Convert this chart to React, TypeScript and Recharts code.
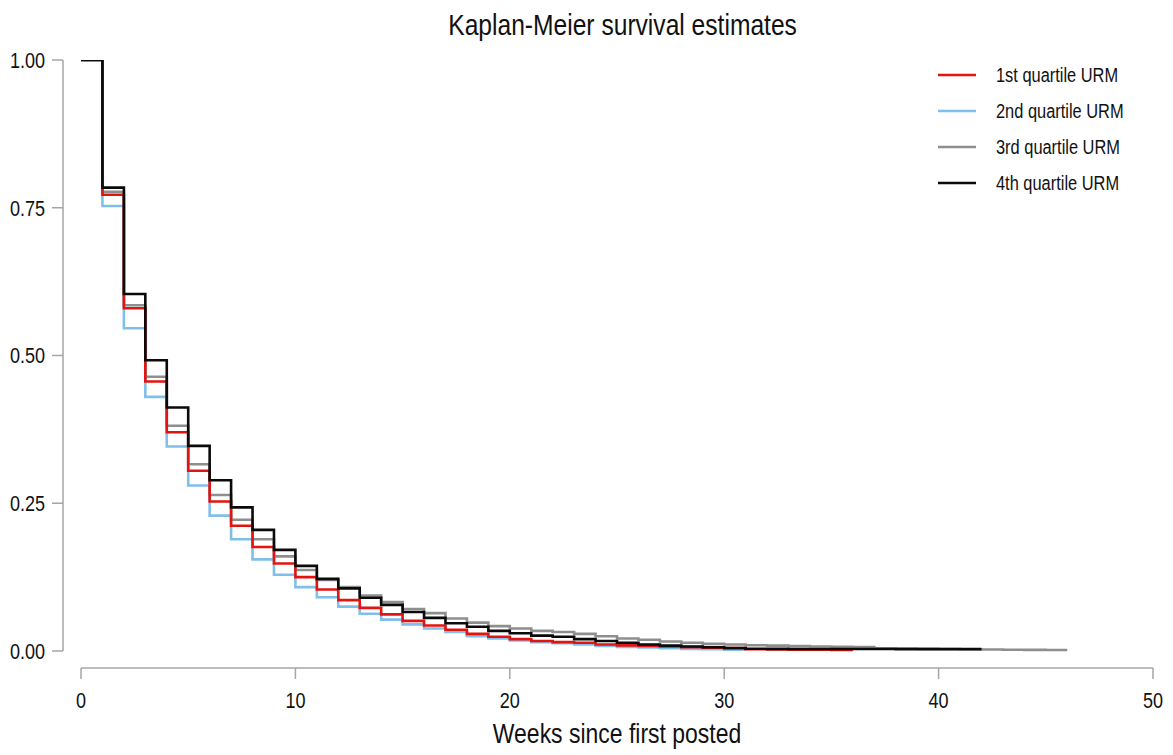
import { LineChart, Line, XAxis, YAxis, Legend, ReferenceLine } from 'recharts'

const FONT = "'Liberation Sans', Arial, sans-serif"
// the reference uses a condensed sans; squeeze the regular one horizontally
const SQUEEZE = 0.82

// ─── Data: survival estimate holding from week i to week i+1 ────────────────

const q1Red = [
  1.0, 0.772, 0.58, 0.456, 0.37, 0.305, 0.253, 0.212, 0.176, 0.148,
  0.125, 0.104, 0.086, 0.073, 0.062, 0.051, 0.043, 0.036, 0.029, 0.024,
  0.02, 0.017, 0.015, 0.014, 0.011, 0.0095, 0.0085, 0.0075, 0.0065, 0.0055,
  0.0048, 0.003, 0.0025, 0.0022, 0.002, 0.0018, 0.0018,
]

const q2Blue = [
  1.0, 0.753, 0.546, 0.43, 0.346, 0.28, 0.229, 0.189, 0.155, 0.129,
  0.108, 0.091, 0.075, 0.063, 0.053, 0.045, 0.038, 0.032, 0.025, 0.021,
  0.018, 0.015, 0.013, 0.011, 0.0085, 0.007, 0.0058, 0.0046, 0.0036, 0.003,
  0.0022, 0.0022,
]

const q3Gray = [
  1.0, 0.777, 0.585, 0.464, 0.381, 0.316, 0.264, 0.222, 0.189, 0.16,
  0.137, 0.12, 0.108, 0.094, 0.083, 0.071, 0.064, 0.055, 0.048, 0.042,
  0.038, 0.034, 0.032, 0.029, 0.025, 0.021, 0.019, 0.016, 0.014, 0.012,
  0.011, 0.0098, 0.009, 0.0082, 0.0076, 0.007, 0.0066, 0.0045, 0.004, 0.0036,
  0.0034, 0.003, 0.0025, 0.002, 0.0018, 0.0017, 0.0017,
]

const q4Black = [
  1.0, 0.784, 0.604, 0.492, 0.412, 0.347, 0.289, 0.243, 0.205, 0.171,
  0.144, 0.122, 0.106, 0.09, 0.078, 0.066, 0.056, 0.047, 0.041, 0.034,
  0.03, 0.026, 0.024, 0.02, 0.017, 0.014, 0.011, 0.009, 0.0075, 0.0062,
  0.005, 0.0038, 0.0035, 0.0034, 0.0034, 0.0033, 0.0033, 0.0033, 0.0032, 0.0032,
  0.0031, 0.0031, 0.0031,
]

const xTicks = [0, 10, 20, 30, 40, 50]
const yTicks = [0, 0.25, 0.5, 0.75, 1]

const X_MAX = 50
// axes are drawn slightly detached from the data region (Stata style)
const X_MIN = -0.84
const Y_MIN = -0.0288

const legendOrder = [
  { key: 'q1', name: '1st quartile URM', color: '#e3140f', values: q1Red },
  { key: 'q2', name: '2nd quartile URM', color: '#80bfea', values: q2Blue },
  { key: 'q3', name: '3rd quartile URM', color: '#8e8e8e', values: q3Gray },
  { key: 'q4', name: '4th quartile URM', color: '#0a0a0a', values: q4Black },
]

// drawing order: light lines first, black on top
const drawOrder = ['q2', 'q3', 'q1', 'q4']

const nWeeks = Math.max(...legendOrder.map((s) => s.values.length))
const chartData = Array.from({ length: nWeeks }, (_, i) => {
  const row: Record<string, number | null> = { week: i }
  legendOrder.forEach((s) => {
    row[s.key] = i < s.values.length ? s.values[i] : null
  })
  return row
})

// ─── Axis pieces ────────────────────────────────────────────────────────────

function XTick({ x, y, payload }: any) {
  return (
    <g transform={`translate(${x},${y})`}>
      <text transform={`scale(${SQUEEZE},1)`} textAnchor="middle" dy="0.71em" fontSize={22} fill="#111" fontFamily={FONT}>
        {payload.value}
      </text>
    </g>
  )
}

function YTick({ x, y, payload }: any) {
  return (
    <g transform={`translate(${x},${y})`}>
      <text transform={`scale(${SQUEEZE},1)`} textAnchor="end" dy="0.355em" fontSize={22} fill="#111" fontFamily={FONT}>
        {Number(payload.value).toFixed(2)}
      </text>
    </g>
  )
}

function XLabel({ viewBox }: any) {
  const { x, y, width, height } = viewBox
  const px = width / (X_MAX - X_MIN)
  const cx = x + (-X_MIN * px + width) / 2
  return (
    <g transform={`translate(${cx},${y + height - 12})`}>
      <text transform={`scale(${SQUEEZE},1)`} textAnchor="middle" fontSize={28} fill="#111" fontFamily={FONT}>
        Weeks since first posted
      </text>
    </g>
  )
}

// ─── Legend ─────────────────────────────────────────────────────────────────

function KmLegend() {
  return (
    <div style={{ fontFamily: FONT }}>
      {legendOrder.map((s) => (
        <div key={s.key} style={{ height: 36, display: 'flex', alignItems: 'center' }}>
          <svg width={61} height={6} style={{ display: 'block', flex: 'none' }}>
            <line x1={3} y1={3} x2={41} y2={3} stroke={s.color} strokeWidth={2.6} />
          </svg>
          <span
            style={{
              display: 'inline-block',
              whiteSpace: 'nowrap',
              fontSize: 20,
              color: '#111',
              lineHeight: '20px',
              transform: `scaleX(${SQUEEZE})`,
              transformOrigin: 'left center',
            }}
          >
            {s.name}
          </span>
        </div>
      ))}
    </div>
  )
}

// ─── Component ──────────────────────────────────────────────────────────────

export default function App() {
  const axisGray = '#a6a6a6'
  return (
    <div style={{ position: 'absolute', left: 0, top: 0, width: 1173, height: 755, background: '#fff' }}>
      <div
        style={{
          position: 'absolute',
          top: 10,
          left: 0,
          width: 1246,
          textAlign: 'center',
          fontFamily: FONT,
          fontSize: 30,
          lineHeight: '30px',
          color: '#111',
        }}
      >
        <span style={{ display: 'inline-block', whiteSpace: 'nowrap', transform: `scaleX(${SQUEEZE})` }}>
          Kaplan-Meier survival estimates
        </span>
      </div>
      <LineChart
        width={1173}
        height={755}
        data={chartData}
        margin={{ top: 60, right: 20, left: 0, bottom: 0 }}
      >
        <XAxis
          type="number"
          dataKey="week"
          domain={[X_MIN, X_MAX]}
          ticks={xTicks}
          allowDataOverflow
          height={87}
          axisLine={false}
          tickLine={{ stroke: axisGray, strokeWidth: 1.5 }}
          tickSize={11}
          tickMargin={13}
          tick={XTick}
          label={XLabel}
        />
        <YAxis
          type="number"
          domain={[Y_MIN, 1]}
          ticks={yTicks}
          allowDataOverflow
          width={63}
          axisLine={false}
          tickLine={{ stroke: axisGray, strokeWidth: 1.5 }}
          tickSize={11}
          tickMargin={7}
          tick={YTick}
        />
        <ReferenceLine
          segment={[{ x: X_MIN, y: 0 }, { x: X_MIN, y: 1 }]}
          stroke={axisGray}
          strokeWidth={1.5}
          ifOverflow="visible"
        />
        <ReferenceLine
          segment={[{ x: 0, y: Y_MIN }, { x: X_MAX, y: Y_MIN }]}
          stroke={axisGray}
          strokeWidth={1.5}
          ifOverflow="visible"
        />
        <Legend
          verticalAlign="middle"
          align="center"
          layout="vertical"
          content={() => <KmLegend />}
          wrapperStyle={{ top: 57, left: 935, width: 230, right: 'auto', bottom: 'auto' }}
        />
        {drawOrder.map((k) => {
          const s = legendOrder.find((x) => x.key === k)!
          return (
            <Line
              key={s.key}
              type="stepAfter"
              dataKey={s.key}
              name={s.name}
              stroke={s.color}
              strokeWidth={2.6}
              dot={false}
              activeDot={false}
              isAnimationActive={false}
            />
          )
        })}
      </LineChart>
    </div>
  )
}
